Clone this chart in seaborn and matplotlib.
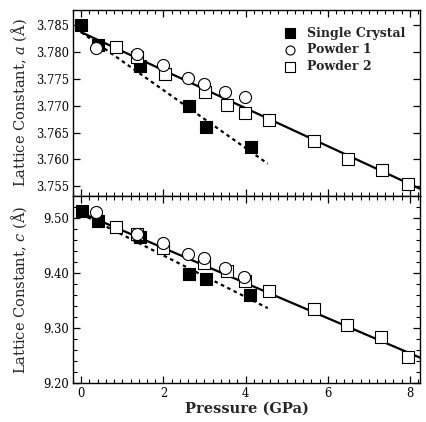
import numpy as np
import pandas as pd
import matplotlib
matplotlib.use("Agg")
import matplotlib.pyplot as plt
from matplotlib.ticker import MultipleLocator, FormatStrFormatter
import seaborn as sns

# lattice constant a (Angstrom) vs pressure (GPa)
sc_p_a = [0.0, 0.41, 1.43, 2.63, 3.03, 4.14]
sc_a = [3.7850, 3.7813, 3.7774, 3.7699, 3.7661, 3.7623]
p1_p_a = [0.36, 1.35, 2.0, 2.59, 3.0, 3.49, 3.98]
p1_a = [3.7808, 3.7797, 3.7776, 3.7751, 3.7741, 3.7725, 3.7716]
p2_p_a = [0.84, 1.35, 2.04, 3.01, 3.56, 3.99, 4.57, 5.67, 6.5, 7.31, 7.96]
p2_a = [3.7809, 3.7790, 3.7760, 3.7725, 3.7702, 3.7687, 3.7673, 3.7635,
        3.7600, 3.7580, 3.7554]

# lattice constant c (Angstrom) vs pressure (GPa)
sc_p_c = [0.02, 0.40, 1.43, 2.63, 3.03, 4.11]
sc_c = [9.513, 9.494, 9.465, 9.398, 9.389, 9.360]
p1_p_c = [0.36, 1.35, 2.0, 2.59, 2.98, 3.49, 3.95]
p1_c = [9.511, 9.471, 9.454, 9.434, 9.427, 9.409, 9.393]
p2_p_c = [0.84, 1.35, 2.0, 3.0, 3.56, 3.99, 4.56, 5.67, 6.48, 7.29, 7.96]
p2_c = [9.484, 9.470, 9.445, 9.418, 9.403, 9.386, 9.368, 9.334, 9.305,
        9.283, 9.247]

# linear fits: powder (solid) and single crystal (dotted), endpoints
fit_powder_p = [0.0, 8.25]
fit_powder_a = [3.7837, 3.7545]
fit_powder_c = [9.509, 9.246]
fit_sc_p = [0.0, 4.54]
fit_sc_a = [3.7837, 3.7592]
fit_sc_c = [9.507, 9.336]

sns.set_style("ticks")
plt.rcParams["font.family"] = ["DejaVu Serif"]
plt.rcParams["mathtext.fontset"] = "dejavuserif"

fig, (ax1, ax2) = plt.subplots(2, 1, figsize=(4.27, 4.22), dpi=100, sharex=True)
fig.subplots_adjust(left=0.171, right=0.984, top=0.977, bottom=0.0924, hspace=0)


def draw_panel(ax, sc_p, sc_v, p1_p, p1_v, p2_p, p2_v, fp, fv, sp, sv):
    sns.lineplot(x=fp, y=fv, ax=ax, color="black", linewidth=1.6, zorder=1)
    sns.lineplot(x=sp, y=sv, ax=ax, color="black", linewidth=1.6,
                 linestyle=(0, (1.6, 1.6)), zorder=1)
    sns.scatterplot(x=sc_p, y=sc_v, ax=ax, marker="s", s=75, color="black",
                    edgecolor="black", linewidth=0.8, zorder=2,
                    label="Single Crystal")
    sns.scatterplot(x=p2_p, y=p2_v, ax=ax, marker="s", s=75, color="white",
                    edgecolor="black", linewidth=0.8, zorder=3,
                    label="Powder 2")
    sns.scatterplot(x=p1_p, y=p1_v, ax=ax, marker="o", s=75, color="white",
                    edgecolor="black", linewidth=0.8, zorder=4,
                    label="Powder 1")
    ax.tick_params(which="both", direction="in", top=True, right=True,
                   labelsize=8.3, colors="black", pad=3)
    ax.tick_params(which="major", length=5, width=0.9)
    ax.tick_params(which="minor", length=3, width=0.8)
    for s in ax.spines.values():
        s.set_linewidth(1.0)
        s.set_color("black")


draw_panel(ax1, sc_p_a, sc_a, p1_p_a, p1_a, p2_p_a, p2_a,
           fit_powder_p, fit_powder_a, fit_sc_p, fit_sc_a)
draw_panel(ax2, sc_p_c, sc_c, p1_p_c, p1_c, p2_p_c, p2_c,
           fit_powder_p, fit_powder_c, fit_sc_p, fit_sc_c)

ax1.set_xlim(-0.2, 8.25)
ax1.xaxis.set_major_locator(MultipleLocator(2))
ax1.xaxis.set_minor_locator(MultipleLocator(0.2))

ax1.set_ylim(3.7531, 3.7879)
ax1.yaxis.set_major_locator(MultipleLocator(0.005))
ax1.yaxis.set_major_formatter(FormatStrFormatter("%.3f"))
ax2.set_ylim(9.20, 9.539)
ax2.yaxis.set_major_locator(MultipleLocator(0.1))
ax2.yaxis.set_minor_locator(MultipleLocator(0.02))
ax2.yaxis.set_major_formatter(FormatStrFormatter("%.2f"))

ax1.set_ylabel("Lattice Constant, $a$ (Å)", fontsize=10.5)
ax2.set_ylabel("Lattice Constant, $c$ (Å)", fontsize=10.5)
ax1.yaxis.set_label_coords(-0.128, 0.5)
ax2.yaxis.set_label_coords(-0.128, 0.5)
ax2.set_xlabel("Pressure (GPa)", fontsize=10.5, fontweight="bold", labelpad=1)

handles, labels = ax1.get_legend_handles_labels()
order = [labels.index(n) for n in ["Single Crystal", "Powder 1", "Powder 2"]]
leg = ax1.legend([handles[i] for i in order], [labels[i] for i in order],
                 loc="upper right", bbox_to_anchor=(0.99, 0.97), frameon=False,
                 prop={"size": 9, "weight": "bold"}, handletextpad=0.4,
                 labelspacing=0.3, markerscale=0.75)
ax2.get_legend().remove()

fig.savefig("out.png", dpi=100)
